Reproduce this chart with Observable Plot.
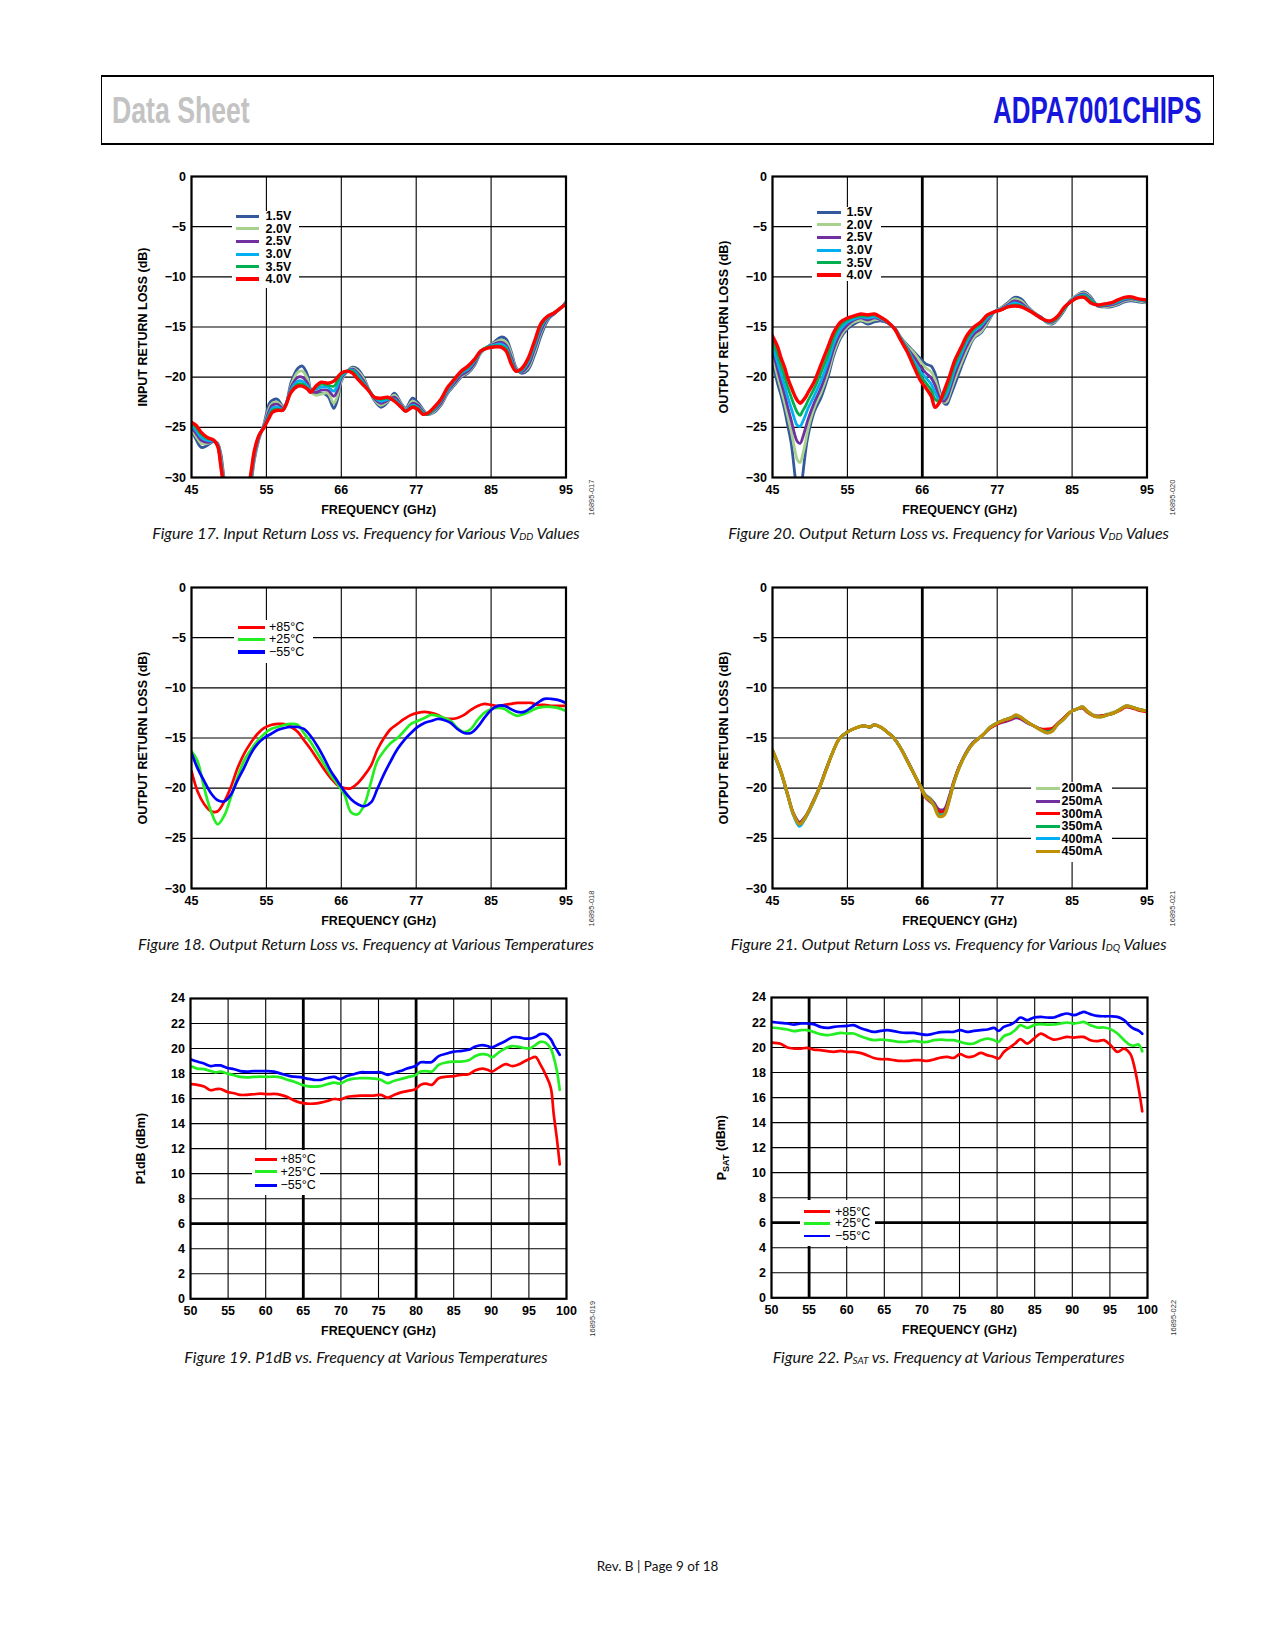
<!DOCTYPE html>
<html><head><meta charset="utf-8">
<script src="https://cdn.jsdelivr.net/npm/d3@7"></script>
<script src="https://cdn.jsdelivr.net/npm/@observablehq/plot@0.6"></script>
<style>
body{margin:0;background:#fff;}
#page{position:relative;width:1275px;height:1650px;overflow:hidden;background:#fff;font-family:"Liberation Sans",Arial,sans-serif;color:#000;}
.cap{position:absolute;font-family:Lato,"Open Sans",sans-serif;font-style:italic;font-size:16px;white-space:nowrap;transform:translate(-50%,-50%);color:#111;line-height:1;}
.cap sub{font-size:0.62em;vertical-align:-0.12em;line-height:0;}
</style></head><body><div id="page"></div>
<script>
// ---------------- DATA ----------------
const rlTicks = [45, 55, 65, 75, 85, 95];
const rlTickLabels = ["45", "55", "66", "77", "85", "95"];
const rlYTicks = [0, -5, -10, -15, -20, -25, -30];
const pXTicks = [50, 55, 60, 65, 70, 75, 80, 85, 90, 95, 100];
const pYTicks = [0, 2, 4, 6, 8, 10, 12, 14, 16, 18, 20, 22, 24];

// Figure 17: Input return loss vs frequency, various VDD
const freq17 = [45,45.6,46.3,47.1,48.0,48.5,48.9,49.3,49.8,51.0,52.4,53.0,53.4,54.0,54.7,55.4,55.8,56.5,57.2,57.6,58.3,59.2,59.8,60.5,60.9,61.6,62.3,63.2,64.0,64.5,65.0,65.8,66.5,67.2,68.1,68.7,69.4,70.3,71.2,72.1,73.0,73.6,74.5,75.2,75.9,76.5,77.4,78.3,79.2,80.1,81.0,81.9,82.8,83.6,84.5,85.4,86.3,87.0,87.7,88.3,89.0,89.9,90.8,91.7,92.6,93.4,94.3,95];
const in15 = [-25.3,-26.2,-27.0,-26.8,-26.4,-26.6,-27.6,-29.8,-32.5,-36,-33.5,-30.4,-28.2,-26.2,-24.6,-22.6,-22.3,-22.2,-22.9,-22.7,-20.5,-19.1,-18.9,-19.8,-21.2,-21.7,-21.6,-21.9,-23.1,-22.2,-20.4,-19.4,-19.0,-19.2,-20.2,-21.3,-22.3,-23.0,-22.5,-21.6,-22.6,-23.1,-22.1,-22.5,-23.2,-23.7,-23.5,-22.8,-21.6,-20.8,-20.0,-19.6,-18.8,-17.6,-17.0,-16.5,-16.0,-16.2,-17.5,-19.0,-19.6,-19.3,-17.8,-15.8,-14.3,-13.7,-13.1,-12.5];
const in20 = [-25.2,-25.9,-26.6,-26.6,-26.4,-26.7,-28.0,-30.2,-33,-36,-33.2,-30.1,-28.0,-26.1,-24.7,-23.0,-22.6,-22.5,-23.0,-22.7,-20.8,-19.5,-19.4,-20.2,-21.4,-21.8,-21.7,-21.6,-22.6,-21.8,-20.3,-19.4,-19.1,-19.4,-20.3,-21.3,-22.2,-22.8,-22.4,-21.8,-22.7,-23.2,-22.4,-22.7,-23.3,-23.7,-23.4,-22.7,-21.5,-20.7,-19.9,-19.5,-18.7,-17.6,-17.0,-16.6,-16.3,-16.5,-17.7,-19.1,-19.5,-19.1,-17.5,-15.5,-14.2,-13.7,-13.1,-12.6];
const in25 = [-25.0,-25.6,-26.3,-26.5,-26.4,-26.8,-28.3,-30.5,-33.3,-36,-33.0,-29.9,-27.8,-26.0,-24.8,-23.3,-22.8,-22.7,-23.1,-22.7,-21.0,-20.0,-20.0,-20.6,-21.4,-21.5,-21.3,-21.3,-21.9,-21.3,-20.1,-19.4,-19.2,-19.6,-20.5,-21.3,-22.1,-22.6,-22.3,-22.0,-22.8,-23.3,-22.6,-22.8,-23.4,-23.7,-23.3,-22.6,-21.4,-20.6,-19.8,-19.4,-18.6,-17.5,-17.0,-16.7,-16.5,-16.8,-18.0,-19.2,-19.5,-18.9,-17.2,-15.3,-14.1,-13.7,-13.1,-12.6];
const in30 = [-24.8,-25.3,-26.0,-26.3,-26.4,-26.8,-28.5,-30.7,-33.6,-36,-32.7,-29.7,-27.6,-25.9,-24.9,-23.6,-23.1,-23.0,-23.2,-22.7,-21.2,-20.4,-20.4,-20.9,-21.4,-21.2,-21.0,-21.0,-21.4,-20.8,-19.9,-19.4,-19.3,-19.8,-20.7,-21.3,-22.0,-22.4,-22.2,-22.2,-22.9,-23.3,-22.8,-23.0,-23.5,-23.7,-23.2,-22.4,-21.3,-20.4,-19.6,-19.2,-18.4,-17.5,-17.0,-16.8,-16.7,-17.0,-18.3,-19.3,-19.4,-18.6,-16.9,-15.0,-14.0,-13.6,-13.1,-12.6];
const in35 = [-24.6,-25.0,-25.7,-26.1,-26.3,-26.9,-28.7,-30.9,-33.8,-36,-32.4,-29.4,-27.4,-25.8,-25.0,-23.8,-23.3,-23.2,-23.3,-22.8,-21.4,-20.7,-20.7,-21.1,-21.5,-21.0,-20.7,-20.8,-20.9,-20.4,-19.7,-19.4,-19.4,-20.0,-20.8,-21.3,-22.0,-22.2,-22.1,-22.3,-23.0,-23.4,-22.9,-23.1,-23.6,-23.7,-23.1,-22.3,-21.1,-20.3,-19.5,-19.0,-18.3,-17.4,-17.0,-16.9,-16.9,-17.2,-18.5,-19.4,-19.3,-18.4,-16.6,-14.8,-13.9,-13.6,-13.1,-12.7];
const in40 = [-24.5,-24.8,-25.5,-26.0,-26.3,-26.9,-28.8,-31,-34,-36,-32,-29.2,-27.3,-25.8,-25.0,-24.0,-23.5,-23.3,-23.3,-22.8,-21.5,-20.9,-20.9,-21.2,-21.5,-20.9,-20.5,-20.6,-20.4,-20.0,-19.6,-19.4,-19.6,-20.2,-20.9,-21.4,-22.0,-22.1,-22.0,-22.4,-23.0,-23.4,-23.0,-23.2,-23.7,-23.6,-23.0,-22.2,-21.0,-20.2,-19.4,-18.9,-18.2,-17.4,-17.1,-17.0,-17.0,-17.4,-18.7,-19.4,-19.2,-18.2,-16.4,-14.6,-13.9,-13.6,-13.1,-12.7];

// Figure 20: Output return loss vs frequency, various VDD
const freq20 = [45,45.7,46.1,46.6,47.0,47.5,48.0,48.3,48.7,49.0,49.4,49.7,50.6,51.5,52.4,53.2,54.1,55.0,55.9,56.8,57.7,58.6,59.5,60.4,61.3,62.1,63.0,63.9,64.8,65.5,66.2,66.7,67.3,67.9,68.3,68.6,69.3,70.2,71.0,71.9,72.8,73.7,74.6,75.5,76.4,77.3,78.2,79.1,80.0,80.8,81.7,82.4,83.1,84.0,84.8,85.7,86.6,87.5,88.4,89.3,90.2,91.1,92.0,92.9,93.8,95];
const out15 = [-18.3,-20.7,-21.7,-23.2,-24.7,-26.6,-29.8,-31.5,-32,-30.0,-27.5,-26.0,-23.4,-22.0,-20.0,-17.8,-16.1,-15.2,-14.7,-14.4,-14.7,-14.5,-14.4,-14.6,-15.1,-16.0,-16.8,-17.5,-18.2,-18.7,-18.9,-19.6,-21.3,-22.6,-22.7,-22.2,-20.8,-19.0,-17.5,-16.1,-15.6,-14.6,-13.5,-13.1,-12.6,-12.05,-12.2,-13.0,-13.6,-14.0,-14.6,-14.7,-14.2,-13.3,-12.3,-11.8,-11.5,-12.0,-12.9,-13.0,-13.0,-12.8,-12.5,-12.4,-12.5,-12.6];
const out20 = [-17.8,-20.0,-21.1,-22.5,-23.8,-25.4,-27.3,-28.2,-28.5,-27.8,-26.5,-25.3,-23.0,-21.5,-19.6,-17.5,-15.9,-15.0,-14.5,-14.3,-14.5,-14.3,-14.3,-14.6,-15.1,-16.0,-16.9,-17.6,-18.5,-19.1,-19.5,-20.2,-21.6,-22.5,-22.4,-21.8,-20.3,-18.6,-17.2,-16.0,-15.5,-14.5,-13.5,-13.1,-12.7,-12.2,-12.4,-13.1,-13.6,-14.0,-14.6,-14.6,-14.1,-13.2,-12.3,-11.8,-11.6,-12.1,-12.9,-13.0,-12.9,-12.7,-12.4,-12.3,-12.4,-12.6];
const out25 = [-17.3,-19.3,-20.4,-21.7,-22.9,-24.3,-25.8,-26.4,-26.6,-26.1,-25.1,-24.3,-22.5,-21.0,-19.1,-17.1,-15.6,-14.8,-14.3,-14.1,-14.3,-14.1,-14.3,-14.6,-15.1,-16.1,-17.1,-18.0,-19.0,-19.6,-20.1,-20.8,-22.0,-22.4,-22.0,-21.4,-19.8,-18.1,-16.8,-15.7,-15.2,-14.3,-13.5,-13.2,-12.8,-12.4,-12.6,-13.2,-13.7,-14.0,-14.5,-14.5,-14.0,-13.1,-12.4,-11.9,-11.7,-12.2,-12.9,-12.9,-12.8,-12.6,-12.3,-12.2,-12.3,-12.5];
const out30 = [-16.8,-18.6,-19.6,-20.8,-21.9,-23.1,-24.3,-24.8,-24.9,-24.5,-23.8,-23.2,-21.8,-20.3,-18.5,-16.6,-15.2,-14.5,-14.2,-14.0,-14.1,-14.0,-14.2,-14.6,-15.2,-16.1,-17.2,-18.4,-19.5,-20.1,-20.7,-21.5,-22.3,-22.1,-21.6,-21.0,-19.3,-17.7,-16.4,-15.4,-14.9,-14.1,-13.5,-13.2,-12.9,-12.6,-12.8,-13.2,-13.7,-14.1,-14.5,-14.4,-14.0,-13.1,-12.4,-12.0,-11.8,-12.3,-12.8,-12.8,-12.7,-12.5,-12.2,-12.1,-12.3,-12.4];
const out35 = [-16.3,-17.8,-18.8,-19.9,-20.9,-22.0,-23.0,-23.5,-23.8,-23.4,-22.9,-22.4,-21.1,-19.5,-17.8,-16.0,-14.8,-14.3,-14.0,-13.9,-13.9,-13.8,-14.1,-14.5,-15.2,-16.2,-17.3,-18.7,-19.9,-20.6,-21.3,-22.2,-22.4,-21.8,-21.1,-20.5,-18.8,-17.3,-16.1,-15.2,-14.7,-13.9,-13.5,-13.3,-13.0,-12.8,-12.9,-13.3,-13.7,-14.1,-14.4,-14.4,-14.0,-13.1,-12.5,-12.1,-11.9,-12.4,-12.8,-12.8,-12.6,-12.4,-12.1,-12.1,-12.2,-12.4];
const out40 = [-15.9,-17.0,-18.0,-19.0,-20.0,-21.0,-21.9,-22.3,-22.6,-22.4,-22.0,-21.6,-20.4,-18.7,-17.0,-15.5,-14.5,-14.1,-13.9,-13.7,-13.8,-13.7,-14.05,-14.5,-15.2,-16.3,-17.5,-19.0,-20.4,-21.1,-21.9,-23.0,-22.5,-21.4,-20.6,-20.0,-18.4,-17.0,-15.8,-15.0,-14.5,-13.8,-13.5,-13.3,-13.0,-12.9,-13.0,-13.3,-13.7,-14.1,-14.4,-14.3,-13.9,-13.0,-12.5,-12.1,-12.05,-12.6,-12.8,-12.7,-12.6,-12.3,-12.05,-12.0,-12.2,-12.3];

// Figure 18: Output return loss vs frequency, temperatures
const freq18 = [45,45.8,46.7,47.6,48.5,49.4,50.3,51.1,52.0,52.9,53.8,54.7,55.6,56.5,57.4,58.3,59.2,60.0,60.9,61.8,62.7,63.6,64.5,65.4,66.3,67.2,68.1,69.0,69.8,70.7,71.6,72.5,73.4,74.3,75.2,76.1,77.0,77.9,78.7,79.6,80.5,81.4,82.3,83.2,84.1,85.0,85.9,86.8,87.6,88.5,89.4,90.3,91.2,92.1,93.0,93.9,95];
const orlT85 = [-18.3,-20.3,-21.6,-22.3,-22.3,-21.3,-19.8,-18.1,-16.6,-15.5,-14.6,-14.0,-13.7,-13.6,-13.6,-13.9,-14.4,-15.2,-16.1,-17.1,-18.1,-19.0,-19.7,-20.0,-20.0,-19.5,-18.7,-17.7,-16.2,-15.0,-14.1,-13.6,-13.1,-12.7,-12.5,-12.4,-12.5,-12.7,-13.0,-13.1,-13.0,-12.7,-12.2,-11.8,-11.6,-11.7,-11.8,-11.7,-11.6,-11.5,-11.5,-11.5,-11.7,-11.7,-11.8,-11.8,-11.8];
const orlT25 = [-16.3,-17.3,-20.0,-22.3,-23.6,-22.7,-20.8,-19.0,-17.3,-16.2,-15.3,-14.6,-14.1,-13.9,-13.7,-13.6,-13.7,-14.5,-15.4,-16.5,-17.6,-18.7,-19.6,-20.6,-22.4,-22.6,-21.6,-19.3,-17.3,-16.3,-15.5,-15.0,-14.3,-13.6,-13.3,-13.0,-12.7,-12.8,-13.0,-13.3,-14.0,-14.4,-14.1,-13.2,-12.5,-12.1,-12.0,-12.1,-12.5,-12.8,-12.6,-12.3,-12.0,-11.9,-11.9,-12.0,-12.3];
const orlTm55 = [-16.5,-18.0,-19.3,-20.5,-21.2,-21.3,-20.6,-19.3,-18.0,-16.6,-15.6,-15.0,-14.6,-14.2,-14.0,-13.9,-13.9,-14.1,-14.8,-15.8,-17.0,-18.3,-19.3,-20.3,-21.1,-21.6,-21.8,-21.4,-20.1,-18.6,-17.3,-16.1,-15.2,-14.5,-13.9,-13.5,-13.3,-13.1,-13.2,-13.5,-14.1,-14.5,-14.5,-13.9,-13.0,-12.2,-11.8,-11.8,-12.1,-12.4,-12.4,-12.0,-11.5,-11.1,-11.1,-11.2,-11.5];

// Figure 21: Output return loss vs frequency, various IDQ
const freq21 = [45,46.1,47.0,47.8,48.6,49.4,50.3,51.2,52.1,53.0,53.9,55.0,56.1,57.2,58.1,58.5,59.4,60.3,61.2,62.1,63.0,63.9,64.8,65.4,66.1,66.6,67.2,67.9,68.6,69.2,69.9,70.8,71.7,72.6,73.2,74.1,75.0,75.9,76.8,77.5,78.1,79.0,79.9,80.8,81.7,82.4,83.0,83.9,84.8,85.7,86.4,87.0,87.9,88.8,89.7,90.6,91.5,92.2,93.3,94.2,95];
const idq200 = [-16.2,-18.2,-20.5,-22.5,-23.4,-22.8,-21.5,-20.0,-18.2,-16.5,-15.1,-14.4,-14.0,-13.8,-13.9,-13.7,-13.9,-14.4,-15.0,-16.0,-17.2,-18.5,-19.8,-20.6,-21.0,-21.5,-22.4,-22.3,-20.9,-19.3,-17.9,-16.5,-15.5,-15.0,-14.6,-13.9,-13.5,-13.3,-13.1,-12.9,-13.0,-13.4,-13.8,-14.1,-14.3,-14.1,-13.6,-13.0,-12.4,-12.1,-12.0,-12.3,-12.7,-12.8,-12.6,-12.4,-12.1,-11.9,-12.0,-12.2,-12.3];
const idq250 = [-16.3,-18.4,-20.6,-22.5,-23.4,-22.8,-21.5,-20.0,-18.2,-16.5,-15.1,-14.4,-14.0,-13.8,-13.9,-13.7,-13.9,-14.4,-15.0,-16.0,-17.2,-18.6,-19.9,-20.7,-21.1,-21.5,-22.1,-22.1,-20.8,-19.3,-17.9,-16.5,-15.5,-15.0,-14.6,-14.0,-13.6,-13.4,-13.2,-13.0,-13.1,-13.5,-13.8,-14.1,-14.2,-14.1,-13.6,-13.0,-12.4,-12.1,-12.0,-12.4,-12.8,-12.8,-12.7,-12.5,-12.1,-11.9,-12.0,-12.2,-12.3];
const idq300 = [-16.2,-18.3,-20.6,-22.6,-23.5,-22.9,-21.6,-20.1,-18.3,-16.5,-15.1,-14.4,-14.0,-13.8,-13.9,-13.7,-13.9,-14.4,-15.0,-16.0,-17.3,-18.6,-20.0,-20.9,-21.4,-21.7,-22.3,-22.3,-21.0,-19.4,-17.9,-16.6,-15.6,-15.0,-14.6,-14.0,-13.6,-13.3,-13.1,-12.9,-13.0,-13.4,-13.8,-14.1,-14.1,-14.0,-13.6,-13.0,-12.4,-12.1,-12.0,-12.4,-12.8,-12.8,-12.7,-12.5,-12.2,-11.9,-12.1,-12.3,-12.4];
const idq350 = [-16.2,-18.3,-20.6,-22.6,-23.6,-22.9,-21.6,-20.1,-18.3,-16.5,-15.1,-14.4,-14.0,-13.8,-13.9,-13.7,-13.9,-14.4,-15.0,-16.0,-17.3,-18.6,-19.9,-20.8,-21.2,-21.7,-22.6,-22.6,-21.1,-19.5,-18.0,-16.6,-15.6,-15.0,-14.6,-13.9,-13.5,-13.2,-13.0,-12.8,-12.9,-13.4,-13.8,-14.2,-14.4,-14.2,-13.7,-13.1,-12.4,-12.1,-11.9,-12.3,-12.8,-12.9,-12.7,-12.5,-12.1,-11.8,-12.0,-12.2,-12.3];
const idq400 = [-16.3,-18.4,-20.7,-22.7,-23.8,-23.0,-21.7,-20.1,-18.3,-16.5,-15.1,-14.4,-14.0,-13.8,-13.9,-13.7,-13.9,-14.4,-15.0,-16.0,-17.3,-18.6,-19.9,-20.8,-21.3,-21.8,-22.7,-22.6,-21.2,-19.5,-18.0,-16.6,-15.6,-15.0,-14.6,-13.9,-13.5,-13.2,-13.0,-12.8,-12.9,-13.4,-13.8,-14.2,-14.5,-14.3,-13.7,-13.1,-12.4,-12.1,-11.9,-12.3,-12.8,-12.9,-12.7,-12.5,-12.1,-11.8,-12.0,-12.2,-12.3];
const idq450 = [-16.2,-18.3,-20.6,-22.6,-23.6,-22.9,-21.6,-20.1,-18.3,-16.5,-15.1,-14.4,-14.0,-13.8,-13.9,-13.7,-13.9,-14.4,-15.0,-16.0,-17.3,-18.6,-19.9,-20.8,-21.2,-21.8,-22.8,-22.7,-21.2,-19.5,-18.0,-16.6,-15.6,-15.0,-14.6,-13.9,-13.5,-13.2,-13.0,-12.7,-12.9,-13.4,-13.8,-14.2,-14.5,-14.3,-13.7,-13.1,-12.4,-12.1,-11.9,-12.3,-12.8,-12.9,-12.7,-12.5,-12.1,-11.8,-12.0,-12.2,-12.3];

// Figure 19: P1dB vs frequency, temperatures
const freq19 = [50.0,50.9,51.8,52.7,53.3,54.0,54.9,55.8,56.6,57.5,58.4,59.3,60.2,61.1,62.0,62.9,63.7,64.6,65.5,66.4,67.3,68.2,69.1,69.9,70.8,71.7,72.6,73.5,74.4,75.3,76.2,77.0,77.9,78.8,79.9,80.6,81.3,82.1,83.0,84.1,85.0,85.9,87.0,87.9,88.8,89.5,90.1,91.0,91.9,92.8,93.7,94.5,95.2,95.9,96.5,97.2,97.9,98.3,98.7,99.1];
const p1dB85 = [17.15,17.1,16.96,16.67,16.75,16.77,16.53,16.43,16.3,16.3,16.35,16.4,16.35,16.37,16.3,16.13,15.87,15.68,15.6,15.6,15.68,15.81,15.97,15.92,16.13,16.2,16.24,16.24,16.24,16.3,16.08,16.27,16.48,16.6,16.75,17.1,17.2,17.1,17.63,17.76,17.8,17.9,17.95,18.27,18.4,18.3,18.16,18.48,18.75,18.6,18.75,19.0,19.2,19.33,18.75,17.95,16.9,14.75,12.9,10.75];
const p1dB25 = [18.6,18.4,18.35,18.2,18.1,18.16,18.0,17.87,17.73,17.7,17.73,17.76,17.73,17.76,17.7,17.5,17.36,17.15,17.0,16.96,17.0,17.15,17.28,17.2,17.47,17.6,17.63,17.63,17.6,17.5,17.23,17.4,17.55,17.7,17.87,18.16,18.2,18.16,18.7,18.9,18.96,18.96,19.07,19.4,19.55,19.5,19.3,19.7,20.03,20.2,20.13,20.03,20.03,20.3,20.53,20.47,20.0,19.3,18.3,16.7];
const p1dBm55 = [19.15,18.96,18.8,18.6,18.65,18.65,18.45,18.35,18.2,18.16,18.2,18.2,18.2,18.15,18.0,17.85,17.75,17.72,17.6,17.5,17.5,17.65,17.73,17.56,17.8,17.95,18.1,18.1,18.1,18.1,17.9,18.03,18.2,18.4,18.6,18.9,18.9,18.93,19.4,19.6,19.76,19.8,19.9,20.16,20.27,20.2,20.1,20.35,20.6,20.9,20.9,20.8,20.8,20.95,21.15,21.15,20.75,20.3,19.9,19.5];

// Figure 22: PSAT vs frequency, temperatures
const freq22 = [50,51.2,52.1,53.0,53.9,54.7,55.6,56.5,57.4,58.3,59.2,60.1,60.9,61.8,62.7,63.6,64.5,65.4,66.3,67.2,68.0,68.9,69.8,70.7,71.6,72.5,73.4,74.2,75.1,76.0,76.9,77.8,78.7,79.6,80.2,80.9,81.8,82.4,83.1,84.0,84.9,85.8,86.7,87.5,88.4,89.3,90.2,91.1,91.5,92.4,93.3,94.2,95.1,96.0,96.9,97.7,98.2,98.8,99.3];
const psat85 = [20.4,20.3,20.0,19.92,19.92,19.97,19.84,19.79,19.71,19.66,19.73,19.65,19.65,19.57,19.39,19.17,19.07,19.07,18.99,18.93,18.93,18.99,18.99,18.93,19.05,19.2,19.25,19.17,19.47,19.25,19.31,19.57,19.39,19.25,19.12,19.65,20.05,20.32,20.67,20.32,20.72,21.12,20.85,20.64,20.72,20.85,20.8,20.85,20.85,20.59,20.51,20.59,20.19,19.65,19.92,19.5,18.6,16.8,14.9];
const psat25 = [21.6,21.52,21.44,21.31,21.39,21.39,21.25,21.07,20.99,21.07,21.17,21.12,21.12,20.91,20.72,20.59,20.64,20.59,20.51,20.45,20.45,20.53,20.45,20.45,20.59,20.64,20.59,20.59,20.45,20.32,20.32,20.59,20.72,20.59,20.45,20.91,21.12,21.39,21.79,21.57,21.79,21.87,21.84,21.84,21.92,22.0,21.92,22.0,22.05,21.79,21.6,21.6,21.47,21.12,20.59,20.2,20.15,20.25,19.7];
const psatm55 = [22.05,21.97,21.92,21.84,21.92,21.92,21.87,21.65,21.57,21.65,21.7,21.73,21.79,21.57,21.39,21.25,21.33,21.39,21.31,21.2,21.17,21.17,21.07,21.01,21.12,21.23,21.25,21.25,21.39,21.25,21.33,21.39,21.44,21.57,21.33,21.65,21.84,22.05,22.4,22.19,22.4,22.45,22.4,22.4,22.59,22.72,22.59,22.77,22.85,22.67,22.53,22.5,22.5,22.45,22.19,21.7,21.5,21.35,21.1];

// ---------------- RENDER ----------------
const page = document.getElementById("page");
const FONT = '"Liberation Sans", Arial, Helvetica, sans-serif';
const minus = d => d < 0 ? "\u2212" + (-d) : String(d);
const rlLabelMap = new Map(rlTicks.map((t, i) => [t, rlTickLabels[i]]));

function el(tag, css, html) {
  const e = document.createElement(tag);
  e.style.cssText = css;
  if (html != null) e.innerHTML = html;
  page.appendChild(e);
  return e;
}

function chart(cfg) {
  const ML = 80, MT = 14, MR = 45, MB = 52;
  const W = cfg.fw + ML + MR, H = cfg.fh + MT + MB;
  const marks = [
    Plot.gridX(cfg.xTicks, {stroke: "#000", strokeOpacity: 1, strokeWidth: 1.1}),
    Plot.gridY(cfg.yTicks, {stroke: "#000", strokeOpacity: 1, strokeWidth: 1.1})
  ];
  if (cfg.thickX) marks.push(Plot.ruleX(cfg.thickX, {stroke: "#000", strokeWidth: 2.8}));
  if (cfg.thickY) marks.push(Plot.ruleY(cfg.thickY, {stroke: "#000", strokeWidth: 2.8}));
  for (const s of cfg.series) {
    const data = cfg.freq.map((f, i) => ({f, v: s.values[i]})).filter(d => d.v != null);
    marks.push(Plot.line(data, {x: "f", y: "v", stroke: s.color, strokeWidth: s.width, curve: "catmull-rom", clip: true, strokeLinejoin: "round"}));
  }
  marks.push(Plot.frame({stroke: "#000", strokeWidth: 2.2}));
  marks.push(Plot.axisX(cfg.xTicks, {tickSize: 0, tickPadding: cfg.xPad, tickFormat: cfg.xFormat, label: null, fontSize: 12.5, fontWeight: "bold"}));
  marks.push(Plot.axisY(cfg.yTicks, {tickSize: 0, tickPadding: 5.5, tickFormat: minus, label: null, fontSize: 12.5, fontWeight: "bold"}));
  marks.push(Plot.text([cfg.xTitle], {text: d => d, frameAnchor: "bottom", dy: cfg.xTitleDy, textAnchor: "middle", lineAnchor: "middle", fontSize: 12.5, fontWeight: "bold"}));
  marks.push(Plot.text([cfg.yTitle], {text: d => d, frameAnchor: "left", dx: -cfg.yTitleDx, rotate: -90, textAnchor: "middle", lineAnchor: "middle", fontSize: 12.5, fontWeight: "bold"}));
  marks.push(Plot.text([cfg.code], {text: d => d, frameAnchor: "bottom-right", dx: 26, dy: 20, rotate: -90, textAnchor: "middle", lineAnchor: "middle", fontSize: 7.5, fontWeight: "normal", fill: "#333"}));
  const svg = Plot.plot({
    width: W, height: H,
    marginLeft: ML, marginRight: MR, marginTop: MT, marginBottom: MB,
    x: {domain: cfg.xDomain},
    y: {domain: cfg.yDomain},
    style: {fontFamily: FONT, fontSize: "12.5px", color: "#000", background: "transparent", maxWidth: "none", overflow: "visible"},
    marks
  });
  if (cfg.subTitle) {
    d3.select(svg).selectAll("text").each(function () {
      if (this.textContent === cfg.yTitle) {
        const t = d3.select(this);
        t.text(null);
        t.append("tspan").text(cfg.subTitle[0]);
        t.append("tspan").attr("dy", "0.3em").attr("font-size", "9px").text(cfg.subTitle[1]);
        t.append("tspan").attr("dy", "-0.3em").text(cfg.subTitle[2]);
      }
    });
  }
  const holder = el("div", `position:absolute;left:${cfg.fx - ML}px;top:${cfg.fy - MT}px;width:${W}px;height:${H}px;`);
  holder.appendChild(svg);
}

function legend(cfg) {
  const [x1, y1, x2, y2] = cfg.box;
  el("div", `position:absolute;left:${x1}px;top:${y1}px;width:${x2 - x1}px;height:${y2 - y1}px;background:#fff;`);
  cfg.items.forEach((it, i) => {
    const y = cfg.rows[i];
    el("div", `position:absolute;left:${cfg.sw[0]}px;top:${y - it.lw / 2}px;width:${cfg.sw[1] - cfg.sw[0]}px;height:${it.lw}px;background:${it.color};`);
    el("div", `position:absolute;left:${cfg.labelX}px;top:${y}px;transform:translateY(-50%);font-family:${FONT};font-size:12.5px;line-height:1;font-weight:${cfg.bold ? "bold" : "normal"};white-space:nowrap;`, it.label);
  });
}

// Header
el("div", "position:absolute;left:101px;top:75px;width:1113px;height:70px;box-sizing:border-box;border-top:2.2px solid #000;border-bottom:2.2px solid #000;border-left:1.2px solid #000;border-right:1.6px solid #000;");
el("div", "position:absolute;left:112px;top:92.5px;transform:scaleX(0.74);transform-origin:left top;color:#c3c3c3;font-family:" + FONT + ";font-weight:bold;font-size:36px;line-height:1;white-space:nowrap;", "Data Sheet");
el("div", "position:absolute;right:" + (1275 - 1201) + "px;top:92.5px;transform:scaleX(0.72);transform-origin:right top;color:#1616dc;font-family:" + FONT + ";font-weight:bold;font-size:36px;line-height:1;white-space:nowrap;", "ADPA7001CHIPS");

const vddColors = ["#34589c", "#a9d18e", "#7030a0", "#00b0f0", "#00b050", "#ff0000"];
const vddLabels = ["1.5V", "2.0V", "2.5V", "3.0V", "3.5V", "4.0V"];
const tColors = ["#ff0000", "#22ee22", "#0000ff"];
const tLabels = ["+85°C", "+25°C", "\u221255°C"];
const idqColors = ["#a9d18e", "#7030a0", "#ff0000", "#00b050", "#00b0f0", "#c09000"];
const idqLabels = ["200mA", "250mA", "300mA", "350mA", "400mA", "450mA"];

const rlBase = {fw: 374.5, fh: 301, xDomain: [45, 95], yDomain: [-30, 0], xTicks: rlTicks, yTicks: rlYTicks,
  xFormat: d => rlLabelMap.get(d), xPad: 7.5, xTitle: "FREQUENCY (GHz)", xTitleDy: 32.5, yTitleDx: 49};
const pBase = {fw: 376, fh: 300.3, xDomain: [50, 100], yDomain: [0, 24], xTicks: pXTicks, yTicks: pYTicks,
  xFormat: d => String(d), xPad: 7.5, xTitle: "FREQUENCY (GHz)", xTitleDy: 32.5, yTitleDx: 49.5};

// Figure 17
chart({...rlBase, fx: 190.7, fy: 175.7, freq: freq17, yTitle: "INPUT RETURN LOSS (dB)", code: "16895-017",
  series: [in15, in20, in25, in30, in35, in40].map((v, i) => ({values: v, color: vddColors[i], width: i === 5 ? 3.4 : 2.8}))});
legend({box: [231.5, 210.5, 299, 288], sw: [236, 259], labelX: 265.5, rows: [216, 228.7, 241.3, 254, 266.7, 279.3], bold: true,
  items: vddLabels.map((l, i) => ({label: l, color: vddColors[i], lw: i === 5 ? 4 : 3}))});

// Figure 20
chart({...rlBase, fx: 771.7, fy: 175.7, freq: freq20, yTitle: "OUTPUT RETURN LOSS (dB)", code: "16895-020", thickX: [65],
  series: [out15, out20, out25, out30, out35, out40].map((v, i) => ({values: v, color: vddColors[i], width: i === 5 ? 3.4 : 2.8}))});
legend({box: [812, 206.5, 881, 281], sw: [816.7, 840.7], labelX: 846.5, rows: [212, 224.7, 237.3, 250, 262.5, 275.2], bold: true,
  items: vddLabels.map((l, i) => ({label: l, color: vddColors[i], lw: i === 5 ? 4 : 3}))});

// Figure 18
chart({...rlBase, fx: 190.7, fy: 586.7, freq: freq18, yTitle: "OUTPUT RETURN LOSS (dB)", code: "16895-018",
  series: [orlT85, orlT25, orlTm55].map((v, i) => ({values: v, color: tColors[i], width: 2.7}))});
legend({box: [234, 620, 312.5, 663], sw: [238, 265], labelX: 269, rows: [627.3, 639.3, 652], bold: false,
  items: tLabels.map((l, i) => ({label: l, color: tColors[i], lw: i === 2 ? 3.5 : 2.5}))});

// Figure 21
chart({...rlBase, fx: 772, fy: 586.7, freq: freq21, yTitle: "OUTPUT RETURN LOSS (dB)", code: "16895-021", thickX: [65],
  series: [idq200, idq250, idq300, idq350, idq400, idq450].map((v, i) => ({values: v, color: idqColors[i], width: i === 5 ? 3.2 : 2.8}))});
legend({box: [1031, 782, 1111.5, 861.5], sw: [1036, 1060], labelX: 1061.5, rows: [788.3, 801, 813.5, 826, 838.5, 851], bold: true,
  items: idqLabels.map((l, i) => ({label: l, color: idqColors[i], lw: 3}))});

// Figure 19
chart({...pBase, fx: 190, fy: 997.5, freq: freq19, yTitle: "P1dB (dBm)", code: "16895-019", thickX: [65, 80], thickY: [6],
  series: [p1dB85, p1dB25, p1dBm55].map((v, i) => ({values: v, color: tColors[i], width: 2.7}))});
legend({box: [251.5, 1150, 320, 1195], sw: [255, 276.7], labelX: 280.5, rows: [1159.3, 1171.5, 1185], bold: false,
  items: tLabels.map((l, i) => ({label: l, color: tColors[i], lw: 3}))});

// Figure 22
chart({...pBase, fx: 771, fy: 997.3, freq: freq22, yTitle: "PSAT (dBm)", subTitle: ["P", "SAT", " (dBm)"], code: "16895-022", thickX: [55], thickY: [6],
  series: [psat85, psat25, psatm55].map((v, i) => ({values: v, color: tColors[i], width: 2.7}))});
legend({box: [800, 1200, 875, 1246], sw: [804, 830], labelX: 835, rows: [1211.7, 1223.3, 1236], bold: false,
  items: tLabels.map((l, i) => ({label: l, color: tColors[i], lw: i === 0 ? 3.5 : 2.5}))});

// Captions
const caps = [
  [366, 534.5, "Figure 17. Input Return Loss vs. Frequency for Various V<sub>DD</sub> Values"],
  [948.6, 534.5, "Figure 20. Output Return Loss vs. Frequency for Various V<sub>DD</sub> Values"],
  [366, 945.5, "Figure 18. Output Return Loss vs. Frequency at Various Temperatures"],
  [948.6, 945.5, "Figure 21. Output Return Loss vs. Frequency for Various I<sub>DQ</sub> Values"],
  [366, 1358.6, "Figure 19. P1dB vs. Frequency at Various Temperatures"],
  [948.6, 1358.6, "Figure 22. P<sub>SAT</sub> vs. Frequency at Various Temperatures"]
];
for (const [x, y, t] of caps) {
  const c = el("div", "", t);
  c.className = "cap";
  c.style.left = x + "px";
  c.style.top = (y - 1.5) + "px";
}
el("div", "position:absolute;left:657.5px;top:1567px;transform:translate(-50%,-50%);font-family:Lato,'Open Sans',sans-serif;font-size:13.5px;line-height:1;white-space:nowrap;color:#111;", "Rev. B | Page 9 of 18");
</script></body></html>
